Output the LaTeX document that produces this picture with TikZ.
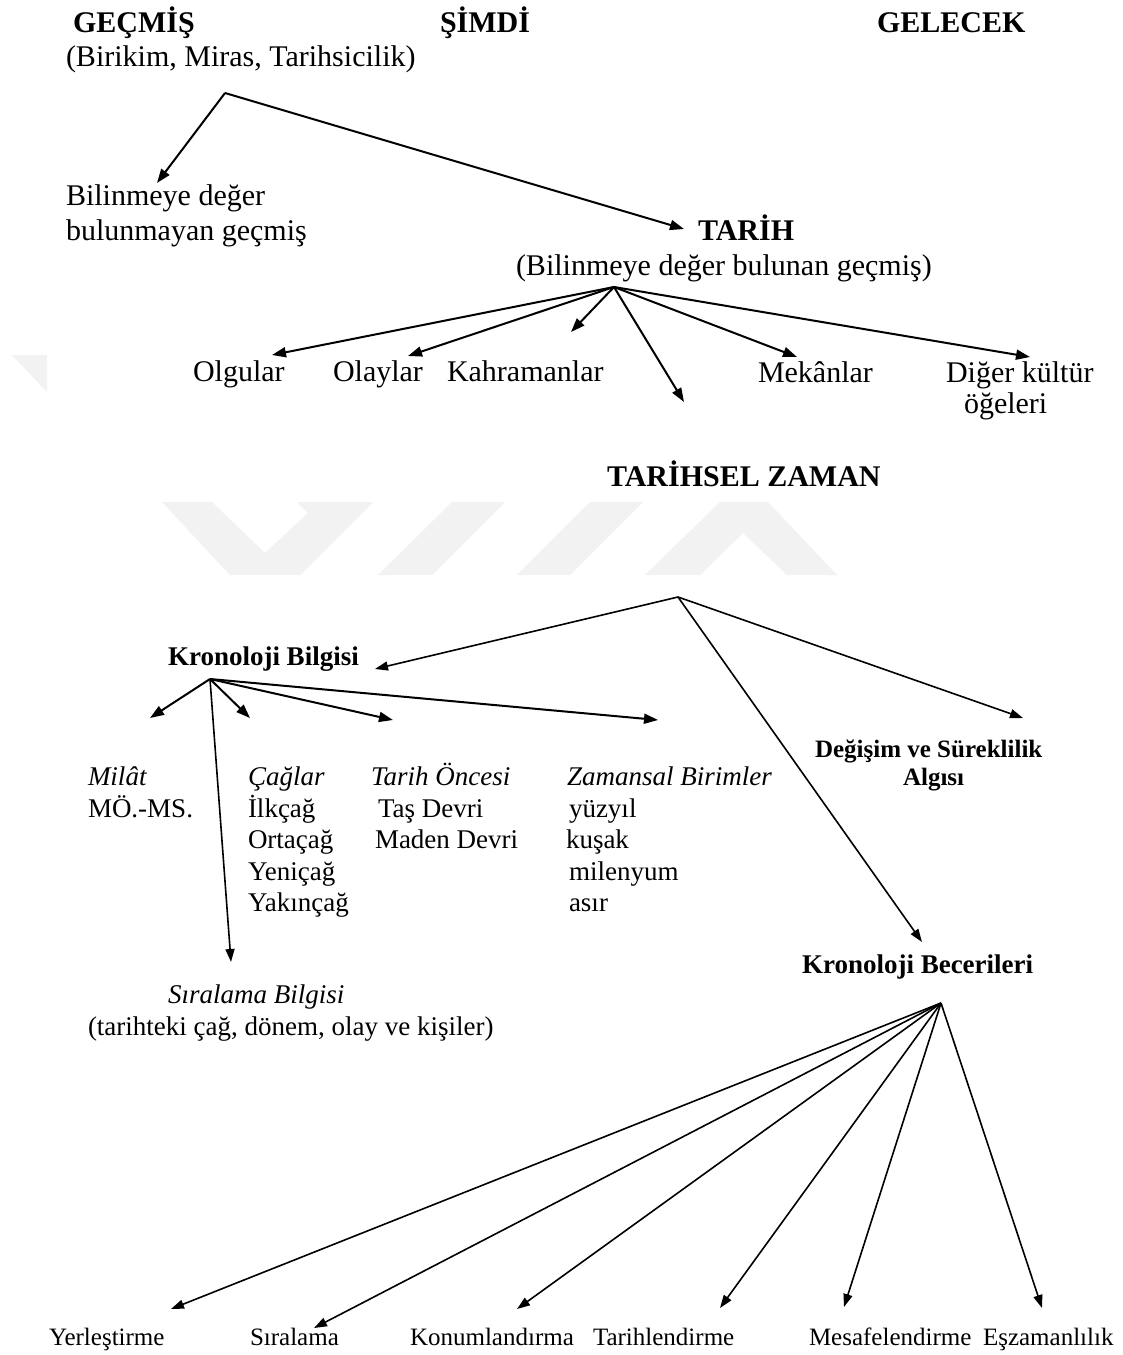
\documentclass[tikz,border=0pt]{standalone}
\usepackage{fontspec}
\setmainfont{Liberation Serif}
\usetikzlibrary{arrows.meta}
\begin{document}
\begin{tikzpicture}[x=1pt,y=-1pt,
  lbl/.style={anchor=base west, inner sep=0pt, outer sep=0pt},
  big/.style={lbl, font=\fontsize{30}{36}\selectfont},
  bigb/.style={lbl, font=\fontsize{30}{36}\selectfont\bfseries},
  mid/.style={lbl, font=\fontsize{27}{32}\selectfont},
  midi/.style={lbl, font=\fontsize{27}{32}\selectfont\itshape},
  midb/.style={lbl, font=\fontsize{27}{32}\selectfont\bfseries},
  smallb/.style={lbl, font=\fontsize{25}{30}\selectfont\bfseries},
  small/.style={lbl, font=\fontsize{25}{30}\selectfont},
  conn/.style={-{Triangle[length=14pt,width=10pt]}, line width=2pt},
  connthin/.style={-{Triangle[length=13pt,width=9pt]}, line width=1.6pt},
  wm/.style={fill=black!5, draw=none}]
\useasboundingbox (0,0) rectangle (1123,1355);
\fill[white] (0,0) rectangle (1123,1355);
% faint watermark
\fill[wm] (162,502) -- (212,502) -- (265,553) -- (308,513) -- (297,502) -- (373,502) -- (300,575) -- (230,575) -- cycle;
\fill[wm] (452,502) -- (505,502) -- (432,575) -- (378,575) -- cycle;
\fill[wm] (590,502) -- (643,502) -- (570,575) -- (517,575) -- cycle;
\fill[wm] (645,575) -- (720,502) -- (768,502) -- (837,575) -- (787,575) -- (743,533) -- (700,575) -- cycle;
\fill[wm] (12,355) -- (47,355) -- (47,392) -- cycle;

% top section
\node[bigb] (gecmis) at (73,32) {GEÇMİŞ};
\node[bigb] (simdi) at (440,32) {ŞİMDİ};
\node[bigb] (gelecek) at (877,32) {GELECEK};
\node[big] (birikim) at (66,66) {(Birikim, Miras, Tarihsicilik)};
\node[big] (bil1) at (66,205) {Bilinmeye değer};
\node[big] (bil2) at (66,240) {bulunmayan geçmiş};
\node[bigb] (tarih) at (698,240) {TARİH};
\node[big] (tarihsub) at (516,275) {(Bilinmeye değer bulunan geçmiş)};
\node[big] (olgular) at (193,381) {Olgular};
\node[big] (olaylar) at (333,381) {Olaylar};
\node[big] (kahraman) at (447,381) {Kahramanlar};
\node[big] (mekan) at (758,382) {Mekânlar};
\node[big] (diger1) at (946,382) {Diğer kültür};
\node[big] (diger2) at (964,413) {öğeleri};
\node[bigb] (tz) at (607,486) {TARİHSEL ZAMAN};

\coordinate (b1) at (225,93);
\coordinate (t1a) at (157,183);
\coordinate (t1b) at (684,229);
\draw[conn] (b1) -- (t1a);
\draw[conn] (b1) -- (t1b);

\coordinate (b2) at (614,287);
\coordinate (t2a) at (272,355);
\coordinate (t2b) at (408,356);
\coordinate (t2c) at (571,332);
\coordinate (t2d) at (684,402);
\coordinate (t2e) at (797,357);
\coordinate (t2f) at (1030,357);
\foreach \t in {t2a,t2b,t2c,t2d,t2e,t2f} \draw[conn] (b2) -- (\t);

% middle section
\node[midb] (kb) at (168,665) {Kronoloji Bilgisi};
\node[midi] (milat) at (88,785) {Milât};
\node[mid] (moms) at (88,817) {MÖ.-MS.};
\node[midi] (caglar) at (248,785) {Çağlar};
\node[mid] (ilk) at (248,817) {İlkçağ};
\node[mid] (orta) at (248,848) {Ortaçağ};
\node[mid] (yeni) at (248,880) {Yeniçağ};
\node[mid] (yakin) at (248,911) {Yakınçağ};
\node[midi] (tonc) at (371,785) {Tarih Öncesi};
\node[mid] (tas) at (378,817) {Taş Devri};
\node[mid] (maden) at (375,848) {Maden Devri};
\node[midi] (zb) at (567,785) {Zamansal Birimler};
\node[mid] (yuz) at (569,817) {yüzyıl};
\node[mid] (kusak) at (566,848) {kuşak};
\node[mid] (mil) at (569,880) {milenyum};
\node[mid] (asir) at (569,911) {asır};
\node[midi] (sb) at (168,1003) {Sıralama Bilgisi};
\node[mid] (sbsub) at (88,1035) {(tarihteki çağ, dönem, olay ve kişiler)};
\node[smallb] (ds1) at (815,757) {Değişim ve Süreklilik};
\node[smallb] (ds2) at (903,785) {Algısı};
\node[midb] (kbec) at (802,973) {Kronoloji Becerileri};

\coordinate (b3) at (678,597);
\coordinate (t3a) at (375,669);
\coordinate (t3b) at (1023,718);
\coordinate (t3c) at (922,942);
\foreach \t in {t3a,t3b,t3c} \draw[connthin] (b3) -- (\t);

\coordinate (b4) at (210,679);
\coordinate (t4a) at (150,718);
\coordinate (t4b) at (250,718);
\coordinate (t4c) at (393,720);
\coordinate (t4d) at (658,720);
\coordinate (t4e) at (231,962);
\foreach \t in {t4a,t4b,t4c,t4d} \draw[conn] (b4) -- (\t);
\draw[connthin] (b4) -- (t4e);

% bottom section
\node[small] (yer) at (49,1345) {Yerleştirme};
\node[small] (sir) at (250,1345) {Sıralama};
\node[small] (konum) at (410,1345) {Konumlandırma};
\node[small] (tarihl) at (593,1345) {Tarihlendirme};
\node[small] (mesafe) at (809,1345) {Mesafelendirme};
\node[small] (esz) at (983,1345) {Eşzamanlılık};

\coordinate (b5) at (941,1003);
\coordinate (t5a) at (171,1309);
\coordinate (t5b) at (314,1328);
\coordinate (t5c) at (517,1309);
\coordinate (t5d) at (720,1308);
\coordinate (t5e) at (844,1307);
\coordinate (t5f) at (1042,1308);
\foreach \t in {t5a,t5b,t5c,t5d,t5e,t5f} \draw[connthin] (b5) -- (\t);
\end{tikzpicture}
\end{document}
